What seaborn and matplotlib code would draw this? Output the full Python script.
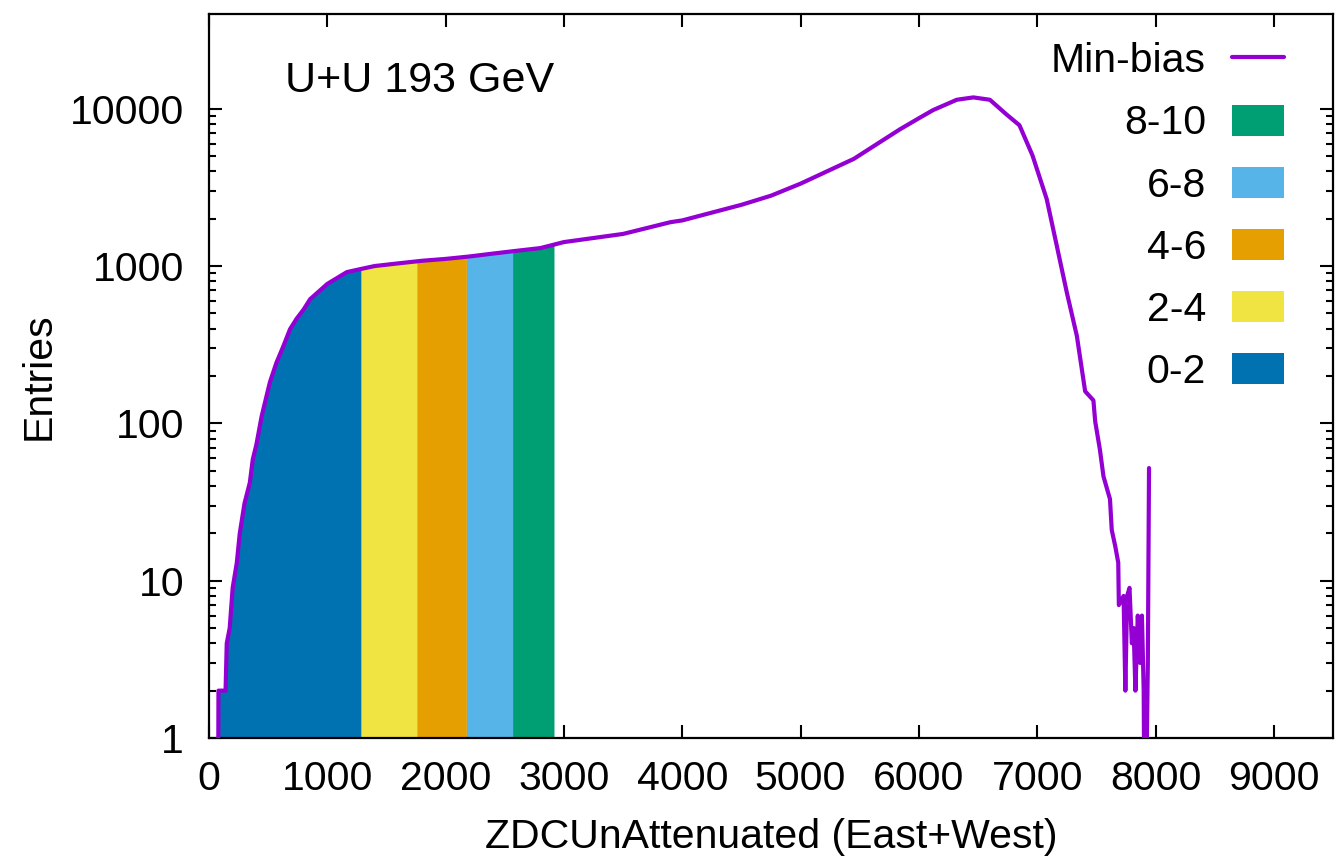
import numpy as np
import pandas as pd
import matplotlib
matplotlib.use("Agg")
import matplotlib.pyplot as plt
from matplotlib.ticker import FixedLocator, FuncFormatter, NullFormatter
from matplotlib.patches import Patch
from matplotlib.lines import Line2D
import seaborn as sns

# ---- data ----
zdc_x = [75, 80, 140, 150, 175, 200, 235, 260, 300, 345, 370, 400, 445, 515,
         570, 625, 685, 740, 800, 855, 880, 1000, 1165, 1290, 1400, 1600,
         1800, 2000, 2200, 2400, 2600, 2800, 3000, 3500, 3900, 4000, 4500,
         4750, 5000, 5450, 5840, 6000, 6120, 6320, 6460, 6600, 6740, 6850,
         6960, 7080, 7165, 7250, 7335, 7405, 7475, 7490, 7530, 7560, 7615,
         7630, 7660, 7685, 7690, 7730, 7745, 7760, 7780, 7800, 7815, 7830,
         7850, 7870, 7885, 7900, 7910, 7935, 7945]
zdc_entries = [0.1, 2, 2, 4, 5, 9, 13, 20, 31, 42, 59, 73, 111, 183,
               243, 305, 397, 462, 530, 616, 640, 770, 915, 960, 1000, 1040,
               1080, 1110, 1150, 1200, 1250, 1300, 1420, 1600, 1900, 1950, 2450,
               2800, 3340, 4800, 7400, 8700, 9800, 11400, 11800, 11400, 9200, 7850,
               5050, 2670, 1350, 680, 360, 160, 140, 103, 68, 46, 33,
               21, 16.5, 13, 7, 8, 2, 8, 9, 4, 5, 2,
               6, 3, 6, 2, 0.1, 3, 52]

band_labels = ["0-2", "2-4", "4-6", "6-8", "8-10"]
band_lo = [75, 1290, 1760, 2180, 2570]
band_hi = [1290, 1760, 2180, 2570, 2920]
band_colors = ["#0072B2", "#F0E442", "#E69F00", "#56B4E9", "#009E73"]
line_color = "#9400D3"

x_ticks = [0, 1000, 2000, 3000, 4000, 5000, 6000, 7000, 8000, 9000]
y_ticks = [1, 10, 100, 1000, 10000]

# ---- style ----
sns.set_style("ticks")
plt.rcParams["font.family"] = ["Liberation Sans", "DejaVu Sans"]
plt.rcParams["text.color"] = "black"
plt.rcParams["axes.labelcolor"] = "black"
FS = 29.5
FSPX = FS * 100 / 72

df = pd.DataFrame({"x": zdc_x, "y": zdc_entries})

fig = plt.figure(figsize=(13.38, 8.64), dpi=100)
ax = fig.add_axes([209 / 1338, 1 - 738 / 864, 1124 / 1338, 724 / 864])

xa = np.array(zdc_x, dtype=float)
ya = np.array(zdc_entries, dtype=float)
for lo, hi, col in zip(band_lo, band_hi, band_colors):
    inside = (xa > lo) & (xa < hi)
    bx = np.concatenate([[lo], xa[inside], [hi]])
    by = np.concatenate([[np.interp(lo, xa, ya)], ya[inside], [np.interp(hi, xa, ya)]])
    ax.fill_between(bx, 1e-3, by, color=col, linewidth=0, zorder=1)

sns.lineplot(data=df, x="x", y="y", ax=ax, color=line_color, linewidth=3.0,
             estimator=None, sort=False, zorder=3)

ax.set_yscale("log")
ax.set_xlim(0, 9500)
ax.set_ylim(1, 40000)

ax.xaxis.set_major_locator(FixedLocator(x_ticks))
ax.yaxis.set_major_locator(FixedLocator(y_ticks))
ax.yaxis.set_minor_locator(FixedLocator([k * 10 ** d for d in range(4) for k in range(2, 10)]))
ax.yaxis.set_major_formatter(FuncFormatter(lambda v, p: f"{int(round(v))}"))
ax.yaxis.set_minor_formatter(NullFormatter())
ax.xaxis.set_minor_locator(FixedLocator([]))

ax.tick_params(which="both", direction="in", top=True, right=True, width=1.5,
               labelsize=FS, color="black", labelcolor="black")
ax.tick_params(which="major", length=9.5)
ax.tick_params(which="minor", length=5)
ax.tick_params(axis="y", which="major", pad=18)
ax.tick_params(axis="x", which="major", pad=16)
for s in ax.spines.values():
    s.set_linewidth(1.6)
    s.set_color("black")

ax.set_xlabel("ZDCUnAttenuated (East+West)", fontsize=FS, labelpad=14)
ax.set_ylabel("Entries", fontsize=FS, labelpad=9)

ax.text(0.0676, 0.9075, "U+U 193 GeV", transform=ax.transAxes, fontsize=31,
        ha="left", va="center")

handles = [Line2D([], [], color=line_color, linewidth=3.0)]
labels = ["Min-bias"]
for lab, col in zip(band_labels[::-1], band_colors[::-1]):
    handles.append(Patch(facecolor=col, edgecolor="none"))
    labels.append(lab)
ax.legend(handles, labels, loc="upper right", bbox_to_anchor=(0.9564, 0.961),
          frameon=False, markerfirst=False, fontsize=FS,
          handlelength=52 / FSPX, handleheight=32 / FSPX,
          handletextpad=26 / FSPX, labelspacing=0.59,
          borderpad=0, borderaxespad=0)

fig.savefig("out.png", dpi=100)
